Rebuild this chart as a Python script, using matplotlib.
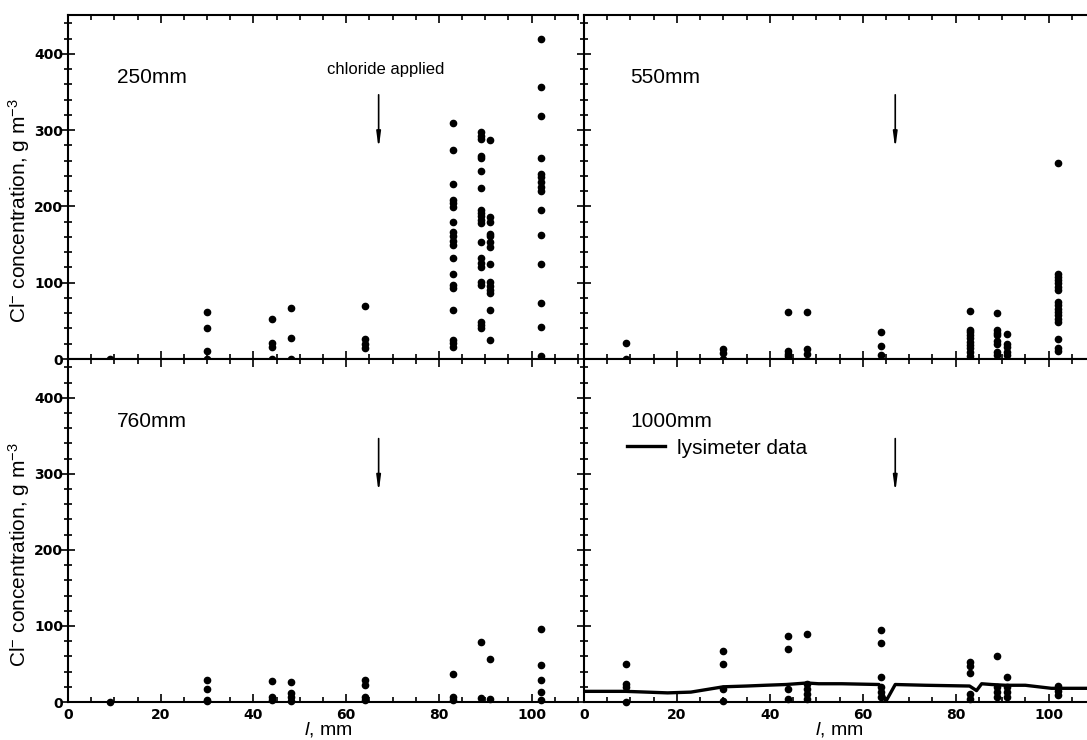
import matplotlib.pyplot as plt
from matplotlib.ticker import MultipleLocator

plt.rcParams['font.family'] = ['Liberation Sans', 'DejaVu Sans']
plt.rcParams['mathtext.fontset'] = 'custom'
plt.rcParams['mathtext.rm'] = 'Liberation Sans'
plt.rcParams['mathtext.it'] = 'Liberation Sans:italic'

# sampling positions l (mm)
columns = [9, 30, 44, 48, 64, 83, 89, 91, 102]

# Cl- concentration (g m-3) at each column, per depth
conc_250 = [
    [0],
    [61, 41, 11, 0],
    [53, 21, 16, 0],
    [67, 28, 0],
    [70, 26, 20, 14],
    [309, 274, 230, 209, 204, 199, 180, 167, 161, 155, 150, 132, 111, 97, 93, 64, 25, 21, 16],
    [297, 292, 288, 266, 263, 247, 224, 195, 191, 187, 182, 178, 153, 132, 126, 121, 101, 97, 49, 45, 41],
    [287, 186, 179, 164, 161, 154, 147, 125, 101, 96, 91, 87, 64, 25],
    [420, 357, 318, 263, 243, 238, 232, 226, 220, 195, 163, 125, 74, 42, 4],
]
conc_550 = [
    [21, 0],
    [13, 8, 0],
    [61, 10, 7, 4],
    [61, 13, 7],
    [35, 17, 5],
    [63, 38, 35, 31, 27, 22, 18, 14, 9, 4],
    [60, 38, 34, 31, 24, 20, 9, 5],
    [33, 20, 16, 9, 5],
    [257, 112, 108, 103, 99, 94, 90, 75, 71, 66, 62, 58, 53, 49, 26, 14, 10],
]
conc_760 = [
    [0],
    [29, 17, 3, 1],
    [28, 7, 3],
    [26, 12, 7, 1],
    [29, 22, 7, 3],
    [37, 7, 3],
    [79, 5],
    [57, 4],
    [96, 49, 29, 13, 3],
]
conc_1000 = [
    [50, 24, 20, 0],
    [67, 50, 17, 1],
    [87, 70, 17, 4],
    [89, 24, 17, 11, 4],
    [95, 78, 33, 20, 13, 7],
    [53, 47, 38, 11, 4],
    [61, 20, 13, 7],
    [33, 20, 13, 7],
    [21, 15, 9],
]

# lysimeter trace for the 1000mm panel
lys_x = [0, 9, 18, 23, 30, 35, 39, 43.5, 48, 50.5, 55.5, 63.5, 65, 67, 73.5, 83, 84.5, 85.6, 87.7, 90.7, 95, 100.6, 110]
lys_y = [14, 14, 12, 13, 20, 21, 22, 23, 25, 24, 24, 23, 1, 23, 22, 21, 15, 24, 23, 22, 22, 18, 18]

panels = [
    ("250mm", conc_250),
    ("550mm", conc_550),
    ("760mm", conc_760),
    ("1000mm", conc_1000),
]

fig = plt.figure(figsize=(10.87, 7.40), dpi=100)
W, H = 1087, 740
lefts = [68, 584]
widths = [510, 511]
tops = [15, 359]
heights = [344, 343]

ylabel = r'Cl$^{-}$ concentration, g m$^{-3}$'

for i, (name, conc) in enumerate(panels):
    row, col = divmod(i, 2)
    ax = fig.add_axes([lefts[col] / W, 1 - (tops[row] + heights[row]) / H,
                       widths[col] / W, heights[row] / H])
    ax.set_xlim(0, 110)
    ax.set_ylim(0, 451)

    for x, ys in zip(columns, conc):
        ax.plot([x] * len(ys), ys, 'o', color='black', ms=4.5, clip_on=False)

    if name == "1000mm":
        ax.plot(lys_x, lys_y, color='black', lw=2.4, label='lysimeter data')
        ax.legend(loc='center left', bbox_to_anchor=(0.085, 0.74), frameon=False,
                  fontsize=15, handlelength=1.8, handletextpad=0.6,
                  borderpad=0, borderaxespad=0)

    ax.annotate('', xy=(67, 272), xytext=(67, 350),
                arrowprops=dict(arrowstyle='-|>,head_width=0.12,head_length=0.9',
                                color='black', lw=1.2))
    if i == 0:
        ax.text(68.5, 380, 'chloride applied', ha='center', va='center', fontsize=12)
    ax.text(10 if col else 10.5, 369, name, ha='left', va='center', fontsize=15)

    for s in ax.spines.values():
        s.set_linewidth(1.5)
    if col == 0:
        ax.spines['right'].set_visible(False)

    ax.xaxis.set_major_locator(MultipleLocator(20))
    ax.xaxis.set_minor_locator(MultipleLocator(5))
    ax.yaxis.set_major_locator(MultipleLocator(100))
    ax.yaxis.set_minor_locator(MultipleLocator(20))
    ax.tick_params(axis='x', which='both', direction='in', top=True, width=1.2)
    ax.tick_params(axis='x', which='major', length=6)
    ax.tick_params(axis='x', which='minor', length=3.5)
    ax.tick_params(axis='y', which='both', direction='inout', right=(col == 1), width=1.2)
    ax.tick_params(axis='y', which='major', length=10)
    ax.tick_params(axis='y', which='minor', length=6)
    ax.tick_params(labelsize=10)
    ax.tick_params(axis='y', pad=-1.5)
    for lab in ax.get_xticklabels() + ax.get_yticklabels():
        lab.set_fontweight('bold')
        lab.set_family('DejaVu Sans')

    if row == 0:
        ax.tick_params(labelbottom=False)
    else:
        ax.tick_params(axis='x', pad=4)
        ax.set_xlabel(r'$l$, mm', fontsize=14, va='center')
        ax.xaxis.set_label_coords(0.5 if col else 0.51, -0.08, transform=ax.transAxes)
    if col == 1:
        ax.tick_params(labelleft=False)
    else:
        ax.set_ylabel(ylabel, fontsize=15)
        ax.yaxis.set_label_coords(-0.07, 0.43)

fig.savefig('out.png', dpi=100)
